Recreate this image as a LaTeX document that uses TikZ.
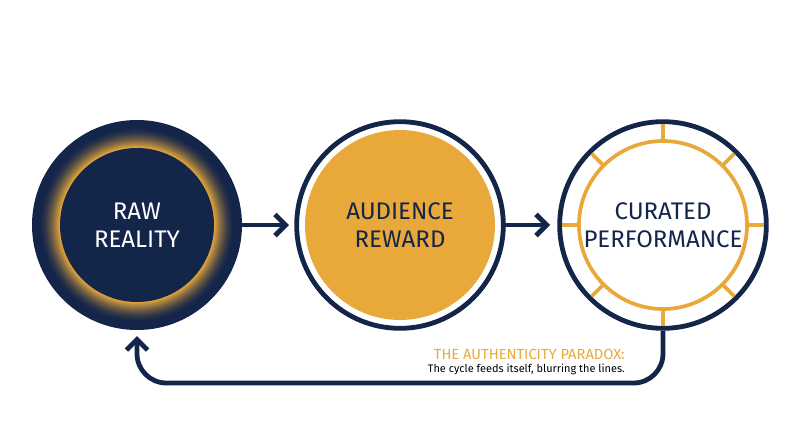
\documentclass[tikz,border=0pt]{standalone}
\usepackage{fontspec}
\setmainfont{Fira Sans}
\usetikzlibrary{arrows.meta}
\definecolor{navy}{HTML}{14254A}
\definecolor{gold}{HTML}{E9A93A}
\tikzset{
    ring/.style={draw=navy, line width=3.6pt},
    link/.style={draw=navy, line width=3.6pt, -{Straight Barb[length=8pt,width=16pt,line width=3.6pt]}},
    label/.style={align=center, font=\fontsize{18}{21}\selectfont}
}
\begin{document}
\begin{tikzpicture}[x=0.75pt,y=-0.75pt]
        \useasboundingbox (0,0) rectangle (800,447);
        % raw reality with glow
        \fill[navy] (137,225) circle (105);
        \foreach \i in {0,...,20}{
            \pgfmathsetmacro\r{98-\i}
            \pgfmathsetmacro\p{(\i/20)^1.6*95}
            \fill[gold!\p!navy] (137,225) circle (\r);
        }
        \fill[navy] (137,225) circle (77);
        \node[label, text=white] (Raw) at (137,225) {
            RAW\\REALITY
        };
        % audience reward
        \node[circle, ring, minimum size=155pt, inner sep=0pt] (Reward) at (400,225) {};
        \fill[gold] (400,225) circle (95);
        \node[label, text=navy] (RewardText) at (400,225) {
            AUDIENCE\\REWARD
        };
        % curated performance
        \node[circle, ring, minimum size=155pt, inner sep=0pt] (Curated) at (663,225) {};
        \draw[gold, line width=2.8pt] (663,225) circle (84);
        \foreach \a in {0,45,...,315}{
            \draw[gold, line width=2.8pt] (663,225) ++(\a:84) -- ++(\a:17);
        }
        \node[label, text=navy] (CuratedText) at (663,225) {
            CURATED\\PERFORMANCE
        };
        \coordinate (LoopCorner) at (663,383);
        \coordinate (LoopEnd) at (137,383);
        \coordinate (RawBottom) at (137,336);
        \draw[link] (242,225) -- (289,225);
        \draw[link] (505,225) -- (550,225);
        \draw[link, rounded corners=22pt] (Curated.south) -- (LoopCorner) -- (LoopEnd) -- (RawBottom);
        \node[anchor=south east, inner sep=0pt, text=gold, font=\fontsize{11}{12}\selectfont] (Paradox) at (625,360) {
            THE AUTHENTICITY PARADOX:
        };
        \node[anchor=north east, inner sep=0pt, text=black, font=\fontsize{8.2}{9}\selectfont] (Cycle) at (625,364) {
            The cycle feeds itself, blurring the lines.
        };
    \end{tikzpicture}
\end{document}
